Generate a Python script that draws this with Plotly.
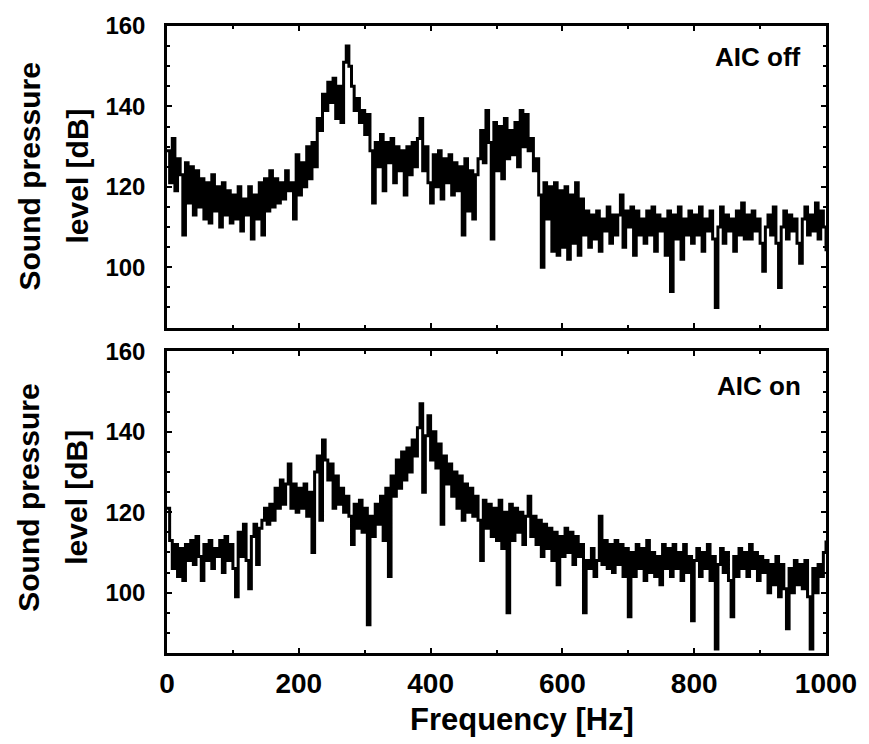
import plotly.graph_objects as go

# Frequency grid (Hz), 4 Hz resolution
freq_hz = [4 * i for i in range(251)]

# Sound pressure level [dB], AIC off
spl_aic_off = [
    129, 121, 132, 119, 127, 123, 108, 126, 116, 125,   # 0-36
    113, 124, 115, 122, 112, 121, 111, 123, 114, 120,   # 40-76
    110, 121, 113, 119, 111, 118, 112, 120, 109, 117,   # 80-116
    113, 120, 107, 118, 112, 121, 108, 122, 114, 124,   # 120-156
    115, 122, 116, 121, 117, 124, 119, 121, 112, 128,   # 160-196
    118, 126, 120, 130, 122, 131, 125, 137, 134, 143,   # 200-236
    139, 146, 141, 147, 137, 145, 136, 151, 155, 150,   # 240-276
    145, 139, 142, 136, 139, 133, 138, 129, 116, 131,   # 280-316
    125, 133, 119, 131, 126, 132, 121, 130, 124, 129,   # 320-356
    118, 130, 123, 131, 125, 132, 137, 124, 130, 121,   # 360-396
    116, 128, 120, 129, 117, 127, 121, 128, 118, 126,   # 400-436
    119, 125, 108, 127, 114, 124, 112, 123, 127, 134,   # 440-476
    126, 139, 131, 107, 136, 124, 135, 122, 137, 127,   # 480-516
    134, 128, 136, 125, 139, 130, 138, 129, 132, 124,   # 520-556
    127, 118, 100, 121, 112, 120, 104, 121, 103, 119,   # 560-596
    105, 120, 102, 118, 106, 121, 103, 117, 108, 114,   # 600-636
    105, 113, 107, 114, 104, 112, 109, 115, 106, 113,   # 640-676
    108, 113, 118, 105, 114, 110, 115, 103, 114, 108,   # 680-716
    112, 106, 114, 108, 115, 104, 113, 109, 112, 103,   # 720-756
    114, 94, 113, 107, 115, 102, 112, 108, 114, 106,    # 760-796
    113, 108, 115, 104, 112, 109, 114, 107, 90, 110,    # 800-836
    115, 106, 113, 109, 112, 104, 114, 108, 116, 107,   # 840-876
    113, 107, 114, 109, 112, 106, 99, 110, 113, 108,    # 880-916
    115, 106, 95, 110, 114, 107, 113, 109, 112, 106,    # 920-956
    101, 112, 115, 108, 113, 109, 116, 107, 114, 110,   # 960-996
    104,                                                # 1000
]

# Sound pressure level [dB], AIC on
spl_aic_on = [
    121, 113, 106, 112, 104, 111, 103, 112, 108, 113,   # 0-36
    107, 114, 109, 103, 112, 108, 113, 106, 111, 109,   # 40-76
    113, 105, 114, 108, 112, 106, 99, 115, 109, 117,    # 80-116
    108, 101, 114, 117, 107, 116, 118, 121, 117, 122,   # 120-156
    118, 126, 121, 128, 122, 127, 132, 121, 127, 120,   # 160-196
    126, 121, 127, 119, 125, 110, 130, 134, 118, 138,   # 200-236
    133, 128, 132, 121, 129, 122, 126, 120, 124, 119,   # 240-276
    112, 122, 116, 123, 115, 121, 92, 119, 114, 122,    # 280-316
    117, 124, 113, 126, 104, 129, 124, 133, 126, 135,   # 320-356
    128, 136, 130, 138, 134, 141, 147, 125, 139, 144,   # 360-396
    133, 140, 131, 137, 117, 134, 127, 132, 124, 130,   # 400-436
    121, 129, 118, 127, 120, 126, 119, 124, 118, 108,   # 440-476
    123, 116, 122, 114, 121, 113, 123, 111, 120, 95,    # 480-516
    122, 113, 121, 115, 120, 112, 119, 124, 114, 119,   # 520-556
    112, 118, 109, 117, 111, 116, 108, 115, 102, 114,   # 560-596
    109, 116, 110, 115, 107, 114, 109, 112, 95, 108,    # 600-636
    106, 111, 104, 108, 119, 107, 113, 106, 112, 105,   # 640-676
    113, 107, 112, 104, 111, 94, 110, 104, 112, 106,    # 680-716
    111, 103, 113, 105, 110, 104, 109, 102, 112, 106,   # 720-756
    111, 104, 112, 106, 110, 103, 112, 105, 109, 93,    # 760-796
    108, 111, 104, 110, 106, 112, 103, 109, 86, 107,    # 800-836
    111, 105, 110, 103, 94, 109, 104, 111, 106, 110,    # 840-876
    104, 112, 106, 110, 103, 109, 105, 108, 100, 107,   # 880-916
    102, 109, 99, 107, 101, 91, 106, 100, 108, 102,     # 920-956
    107, 101, 108, 99, 86, 106, 100, 107, 104, 110,     # 960-996
    113,                                                # 1000
]

x_ticks = [0, 200, 400, 600, 800, 1000]
y_ticks = [100, 120, 140, 160]
panel_labels = ["AIC off", "AIC on"]

FONT = "Liberation Sans, Arial, sans-serif"

fig = go.Figure()
fig.add_trace(go.Scatter(x=freq_hz, y=spl_aic_off, mode="lines",
                         line=dict(color="black", width=3, shape="hv"),
                         xaxis="x", yaxis="y", showlegend=False))
fig.add_trace(go.Scatter(x=freq_hz, y=spl_aic_on, mode="lines",
                         line=dict(color="black", width=3, shape="hv"),
                         xaxis="x2", yaxis="y2", showlegend=False))

xcommon = dict(range=[0, 1000], tickvals=x_ticks, ticks="inside", ticklen=5,
               tickwidth=2, tickcolor="black", showline=True, linewidth=2.5,
               linecolor="black", mirror="ticks", showgrid=False, zeroline=False,
               minor=dict(dtick=100, ticks="inside", ticklen=3, tickwidth=1.5,
                          tickcolor="black"),
               tickfont=dict(family=FONT, size=28, color="black", weight="bold"),
               ticklabelstandoff=4)
ycommon = dict(range=[85, 160], tickvals=y_ticks, ticks="inside", ticklen=5,
               tickwidth=2, tickcolor="black", showline=True, linewidth=2.5,
               linecolor="black", mirror="ticks", showgrid=False, zeroline=False,
               minor=dict(dtick=5, tick0=100, ticks="inside", ticklen=3,
                          tickwidth=1.5, tickcolor="black"),
               tickfont=dict(family=FONT, size=24, color="black", weight="bold"),
               ticklabelstandoff=14)

fig.update_layout(
    width=869, height=744,
    margin=dict(l=167, r=41, t=15, b=91),
    paper_bgcolor="white", plot_bgcolor="white",
    xaxis=dict(domain=[0, 1], anchor="y", showticklabels=False, **xcommon),
    yaxis=dict(domain=[0.519, 1.0], anchor="x", **ycommon),
    xaxis2=dict(domain=[0, 1], anchor="y2", **xcommon),
    yaxis2=dict(domain=[0.0, 0.481], anchor="x2", **ycommon),
)

annots = []
# y-axis titles (two lines each)
for yc in (0.760, 0.2476):
    annots.append(dict(text="Sound pressure", x=0, xref="paper", xshift=-138,
                       y=yc, yref="paper", textangle=-90, showarrow=False,
                       xanchor="center", yanchor="middle",
                       font=dict(family=FONT, size=30, color="black", weight="bold")))
    annots.append(dict(text="level [dB]", x=0, xref="paper", xshift=-90,
                       y=yc, yref="paper", textangle=-90, showarrow=False,
                       xanchor="center", yanchor="middle",
                       font=dict(family=FONT, size=30, color="black", weight="bold")))
# panel labels
for lbl, yc in zip(panel_labels, (0.9498, 0.4255)):
    annots.append(dict(text=lbl, x=0.965, xref="paper", y=yc, yref="paper",
                       showarrow=False, xanchor="right", yanchor="middle",
                       font=dict(family=FONT, size=26, color="black", weight="bold")))
# x-axis title
annots.append(dict(text="Frequency [Hz]", x=(523 - 167) / 661, xref="paper",
                   y=-0.1066, yref="paper", showarrow=False,
                   xanchor="center", yanchor="middle",
                   font=dict(family=FONT, size=31, color="black", weight="bold")))
fig.update_layout(annotations=annots)

fig.write_html("out.html")
